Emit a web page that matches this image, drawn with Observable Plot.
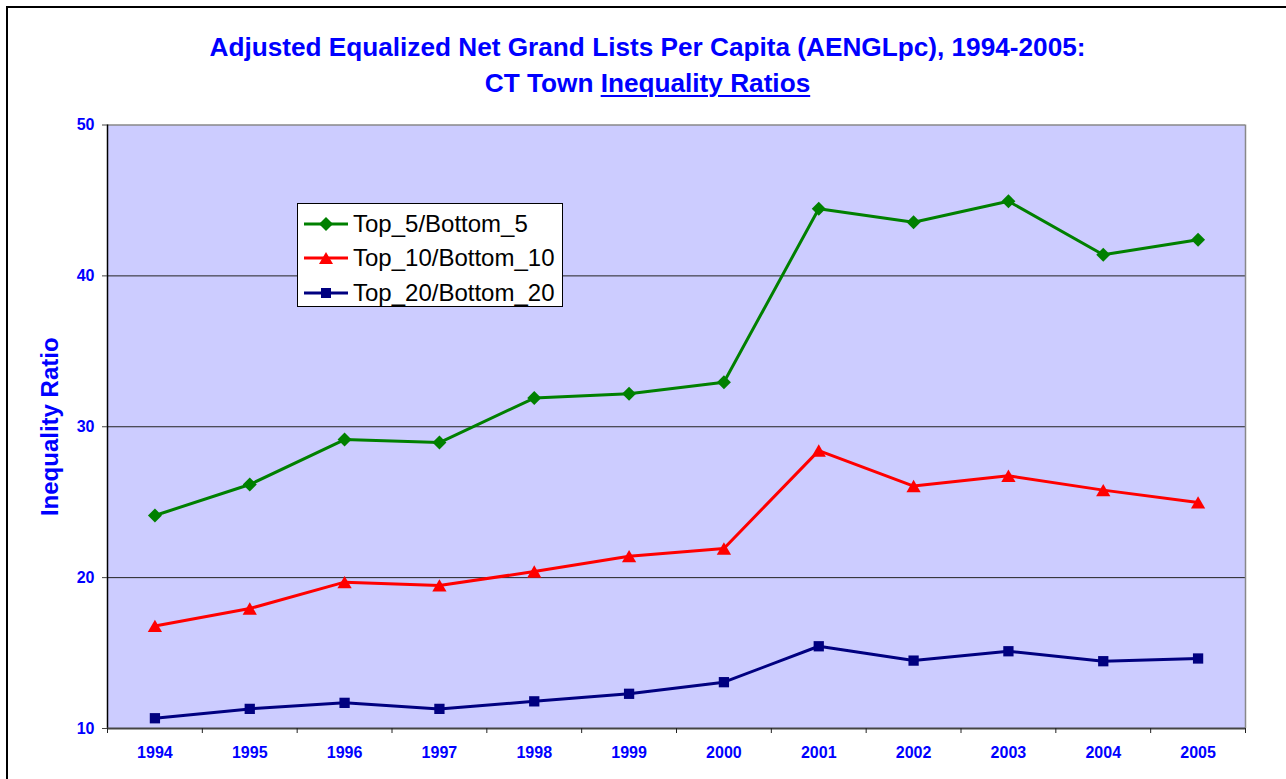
<!DOCTYPE html>
<html><head><meta charset="utf-8">
<script src="https://cdn.jsdelivr.net/npm/d3@7"></script>
<script src="https://cdn.jsdelivr.net/npm/@observablehq/plot@0.6"></script>
<style>
body{margin:0;background:#fff;font-family:"Liberation Sans",Arial,sans-serif;}
#wrap{position:relative;width:1286px;height:779px;overflow:hidden;}
#frame{position:absolute;left:6px;top:6px;width:1300px;height:800px;border:2px solid #000;box-sizing:border-box;pointer-events:none;}
#title{position:absolute;left:5px;width:1285px;top:29px;text-align:center;font-weight:bold;font-size:26.2px;line-height:36px;color:#0000FF;}
#title u{text-decoration-thickness:2px;text-underline-offset:3px;}
#chart{position:absolute;left:0;top:0;}
#legend{position:absolute;left:297px;top:203px;width:266px;height:104px;background:#fff;border:1px solid #000;box-sizing:border-box;}
.row{position:absolute;left:6px;height:34px;display:flex;align-items:center;font-size:24px;color:#000;}
.row svg{margin-right:5px;}
</style></head>
<body>
<div id="wrap">
  <div id="chart"></div>
  <div id="title">Adjusted Equalized Net Grand Lists Per Capita (AENGLpc), 1994-2005:<br>CT Town <u>Inequality Ratios</u></div>
  <div id="legend"></div>
  <div id="frame"></div>
</div>
<script>
const years = [1994,1995,1996,1997,1998,1999,2000,2001,2002,2003,2004,2005];
const seriesNames = ["Top_5/Bottom_5","Top_10/Bottom_10","Top_20/Bottom_20"];
const seriesColors = ["#008000","#FF0000","#000080"];
const top5 = [24.12,26.17,29.15,28.95,31.9,32.18,32.95,44.45,43.55,44.95,41.4,42.4];
const top10 = [16.8,17.95,19.7,19.48,20.4,21.42,21.93,28.42,26.07,26.75,25.8,24.98];
const top20 = [10.68,11.3,11.7,11.3,11.8,12.3,13.07,15.45,14.5,15.12,14.46,14.64];
const yTicks = [10,20,30,40,50];
const gridTicks = [20,30,40];
const yLabel = "Inequality Ratio";

const seriesValues = [top5, top10, top20];
const data = [];
seriesNames.forEach((s, i) => years.forEach((y, j) => data.push({series: s, year: y, value: seriesValues[i][j]})));
const bounds = years.map(y => y - 0.5).concat([years[years.length-1] + 0.5]);
const xDomain = [bounds[0], bounds[bounds.length-1]];

const blue = "#0000FF";
const plot = Plot.plot({
  width: 1286, height: 779,
  marginLeft: 107, marginRight: 41, marginTop: 124.5, marginBottom: 51,
  style: {fontFamily: "'Liberation Sans', Arial, sans-serif", background: "transparent", overflow: "visible"},
  x: {domain: xDomain},
  y: {domain: [10, 50]},
  color: {domain: seriesNames, range: seriesColors},
  marks: [
    Plot.frame({fill: "#CCCCFF", stroke: null}),
    Plot.gridY(gridTicks, {stroke: "#222", strokeOpacity: 1, strokeWidth: 1}),
    Plot.ruleY([50], {stroke: "#888", strokeWidth: 1.5}),
    Plot.ruleX([xDomain[1]], {stroke: "#888", strokeWidth: 1.5}),
    Plot.ruleX([xDomain[0]], {stroke: "#000", strokeWidth: 1.5}),
    Plot.ruleY([10], {stroke: "#444", strokeWidth: 2}),
    Plot.axisY({ticks: yTicks, tickSize: 5, tickPadding: 8, stroke: "#444", fill: blue, fontSize: 16, fontWeight: "bold", label: null}),
    Plot.axisX({ticks: bounds, tickSize: 5, tickFormat: () => "", stroke: "#222", label: null}),
    Plot.axisX({ticks: years, tickSize: 0, tickPadding: 18, tickFormat: d => String(d), fill: blue, fontSize: 16, fontWeight: "bold", label: null}),
    Plot.text([yLabel], {frameAnchor: "left", textAnchor: "middle", text: d => d, rotate: -90, dx: -57, fill: blue, fontSize: 24, fontWeight: "bold"}),
    Plot.line(data, {x: "year", y: "value", z: "series", stroke: "series", strokeWidth: 3}),
    Plot.dot(data.filter(d => d.series === seriesNames[0]), {x: "year", y: "value", symbol: "diamond2", r: 6.3, fill: seriesColors[0], stroke: null}),
    Plot.dot(data.filter(d => d.series === seriesNames[1]), {x: "year", y: "value", symbol: "triangle", r: 5.3, dy: 2, fill: seriesColors[1], stroke: null}),
    Plot.dot(data.filter(d => d.series === seriesNames[2]), {x: "year", y: "value", symbol: "square", r: 5.8, fill: seriesColors[2], stroke: null})
  ]
});
document.getElementById("chart").appendChild(plot);

// legend
const legend = document.getElementById("legend");
const symbolPaths = [
  '<path d="M15,-7 L22,0 L15,7 L8,0 Z" />',
  '<path d="M15,-6 L22,6 L8,6 Z" />',
  '<rect x="10" y="-5" width="10" height="10" />'
];
seriesNames.forEach((s, i) => {
  const row = document.createElement("div");
  row.className = "row";
  row.style.top = (3 + i * 34.3) + "px";
  row.innerHTML = `<svg width="44" height="20" viewBox="-7 -10 44 20"><line x1="-7" x2="37" y1="0" y2="0" stroke="${seriesColors[i]}" stroke-width="3"/><g fill="${seriesColors[i]}">${symbolPaths[i]}</g></svg><span>${s}</span>`;
  legend.appendChild(row);
});
</script>
</body></html>
